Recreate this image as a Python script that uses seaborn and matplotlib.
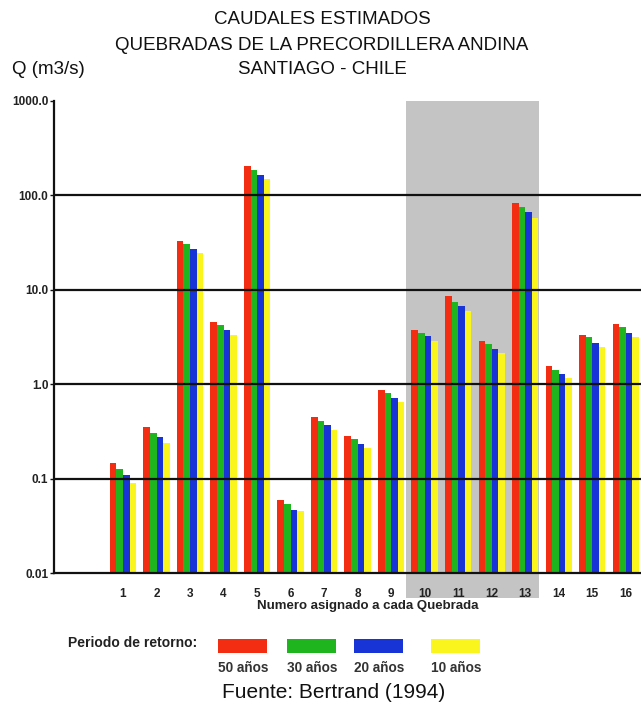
import numpy as np
import pandas as pd
import matplotlib
matplotlib.use("Agg")
import matplotlib.pyplot as plt
import seaborn as sns
from matplotlib.patches import Rectangle

# Datos (Q en m3/s, escala log)
quebradas = [str(i) for i in range(1, 17)]
periodos = ["50 años", "30 años", "20 años", "10 años"]
q_50 = [0.145, 0.355, 33.0, 4.6, 205, 0.060, 0.45, 0.283, 0.87, 3.75, 8.6, 2.9, 84, 1.56, 3.3, 4.35]
q_30 = [0.125, 0.305, 30.3, 4.2, 186, 0.054, 0.41, 0.26, 0.80, 3.46, 7.5, 2.65, 76, 1.41, 3.15, 4.0]
q_20 = [0.109, 0.278, 27.3, 3.75, 164, 0.047, 0.37, 0.233, 0.71, 3.24, 6.7, 2.36, 67, 1.28, 2.75, 3.5]
q_10 = [0.089, 0.236, 24.4, 3.3, 148, 0.045, 0.327, 0.21, 0.65, 2.9, 5.9, 2.12, 57, 1.15, 2.5, 3.18]
colores = ["#f22d12", "#1fb51f", "#1934d6", "#fbf51e"]
destacadas = ["10", "11", "12", "13"]
yticks = [0.01, 0.1, 1, 10, 100, 1000]
ytick_labels = ["0.01", "0.1", "1.0", "10.0", "100.0", "1000.0"]

df = pd.DataFrame({
    "quebrada": quebradas * 4,
    "periodo": np.repeat(periodos, len(quebradas)),
    "caudal": q_50 + q_30 + q_20 + q_10,
})

sns.set_theme(style="white")
plt.rcParams["font.family"] = ["Liberation Sans", "DejaVu Sans"]

fig = plt.figure(figsize=(6.41, 7.09), dpi=100)
ax = fig.add_axes([54 / 641, 1 - 573 / 709, 1 - 54 / 641, 472 / 709])

sns.barplot(data=df, x="quebrada", y="caudal", hue="periodo", hue_order=periodos,
            order=quebradas, palette=colores, width=0.78, linewidth=0,
            saturation=1, legend=False, ax=ax, zorder=2)
ax.set_yscale("log")
ax.set_ylim(0.01, 1000)
ax.set_xlim(-2.06, 15.46)

# banda gris de las quebradas destacadas
x0 = quebradas.index(destacadas[0]) - 0.55
x1 = quebradas.index(destacadas[-1]) + 0.42
ax.add_patch(Rectangle((x0, -0.053), x1 - x0, 1.053, transform=ax.get_xaxis_transform(),
                       facecolor="#c4c4c4", edgecolor="none", zorder=0, clip_on=False))

for v in yticks[1:-1]:
    ax.axhline(v, color="#111111", lw=1.6, zorder=3)

ax.set_yticks(yticks)
ax.set_yticklabels(ytick_labels, fontsize=8.5, fontweight="bold", color="#222222")
ax.yaxis.set_minor_locator(matplotlib.ticker.NullLocator())
ax.tick_params(axis="y", left=True, length=3, width=1, color="#111111", pad=1)
ax.tick_params(axis="x", bottom=False, labelsize=8.5, pad=5, labelcolor="#222222")
for lab in ax.get_xticklabels():
    lab.set_fontweight("bold")
ax.set_xlabel("")
ax.set_ylabel("")
for s in ["top", "right"]:
    ax.spines[s].set_visible(False)
for s in ["left", "bottom"]:
    ax.spines[s].set_color("#111111")
    ax.spines[s].set_linewidth(1.6)
ax.patch.set_alpha(0)

# titulos
tit_kw = dict(ha="center", va="center", fontsize=13.5, color="#111111")
fig.text(322 / 641, 1 - 20 / 709, "CAUDALES ESTIMADOS", **tit_kw)
fig.text(322 / 641, 1 - 45 / 709, "QUEBRADAS DE LA PRECORDILLERA ANDINA", **tit_kw)
fig.text(322 / 641, 1 - 69 / 709, "SANTIAGO - CHILE", **tit_kw)
fig.text(12 / 641, 1 - 70 / 709, "Q (m3/s)", ha="left", va="center", fontsize=13.5,
         color="#111111")

fig.text(368 / 641, 1 - 606 / 709, "Numero asignado a cada Quebrada", ha="center", va="center",
         fontsize=9.5, fontweight="bold", color="#222222")

# leyenda manual
fig.text(68 / 641, 1 - 643 / 709, "Periodo de retorno:", ha="left", va="center",
         fontsize=10, fontweight="bold", color="#222222")
lx = [218, 287, 354, 431]
for x, c, p in zip(lx, colores, periodos):
    fig.patches.append(Rectangle((x / 641, 1 - 653 / 709), 49 / 641, 14 / 709,
                                 transform=fig.transFigure, facecolor=c, edgecolor="none"))
    fig.text((x + 25) / 641, 1 - 668 / 709, p, ha="center", va="center",
             fontsize=9.8, fontweight="bold", color="#333333")

fig.text(334 / 641, 1 - 692 / 709, "Fuente: Bertrand (1994)", ha="center", va="center",
         fontsize=15, color="#111111")

fig.savefig("out.png", dpi=100)
